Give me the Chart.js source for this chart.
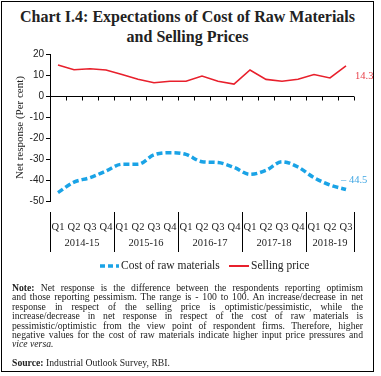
<!DOCTYPE html>
<html><head><meta charset="utf-8">
<script src="https://cdn.jsdelivr.net/npm/chart.js@4/dist/chart.umd.min.js"></script>
<style>
html,body{margin:0;padding:0;background:#fff;}
body{width:381px;height:376px;position:relative;overflow:hidden;font-family:"Liberation Serif",serif;color:#222;}
#frame{position:absolute;left:1px;top:1px;width:371px;height:369px;border:1px solid #000;}
#title{position:absolute;left:0;top:7px;width:375px;text-align:center;font-weight:bold;font-size:16px;line-height:20px;color:#222;}
#c{position:absolute;left:0;top:0;}
#note{position:absolute;left:12px;top:283px;width:351px;font-size:9.7px;line-height:9.4px;}
#note .j{text-align:justify;text-align-last:justify;}
#src{position:absolute;left:12px;top:357px;font-size:9.7px;}
</style></head>
<body>
<div id="frame"></div>
<div id="title">Chart I.4: Expectations of Cost of Raw Materials<br>and Selling Prices</div>
<canvas id="c" width="381" height="376"></canvas>
<div id="note">
<div class="j"><b>Note:</b> Net response is the difference between the respondents reporting optimism</div>
<div class="j">and those reporting pessimism. The range is - 100 to 100. An increase/decrease in net</div>
<div class="j">response in respect of the selling price is optimistic/pessimistic, while the</div>
<div class="j">increase/decrease in net response in respect of the cost of raw materials is</div>
<div class="j">pessimistic/optimistic from the view point of respondent firms. Therefore, higher</div>
<div class="j">negative values for the cost of raw materials indicate higher input price pressures and</div>
<div><i>vice versa.</i></div>
</div>
<div id="src"><b>Source:</b> Industrial Outlook Survey, RBI.</div>
<script>
const categories = ['Q1','Q2','Q3','Q4','Q1','Q2','Q3','Q4','Q1','Q2','Q3','Q4','Q1','Q2','Q3','Q4','Q1','Q2','Q3'];
const years = ['2014-15','2015-16','2016-17','2017-18','2018-19'];
const yearSizes = [4,4,4,4,3];
const costRawMaterials = [-46,-41,-38.9,-35.7,-32.5,-32.5,-28,-27,-27.8,-31.3,-31.7,-34,-37.3,-35.4,-31.3,-33.8,-38.9,-42.4,-44.5];
const sellingPrice = [14.8,12.5,13,12.4,10.2,8,6.3,7,7,9.5,7,5.7,12.4,7.9,7,8,10.2,8.6,14.3];
const yTicks = [20,10,0,-10,-20,-30,-40,-50];
const seriesNames = ['Cost of raw materials','Selling price'];
const lastLabels = ['\u2013 44.5','14.3'];

const BLUE = '#1aa3e6', RED = '#e8202c';
const serif = '"Liberation Serif", serif';

const deco = {
  id: 'deco',
  beforeDatasetsDraw(chart) {
    const ctx = chart.ctx, x = chart.scales.x, y = chart.scales.y;
    const y0 = Math.round(y.getPixelForValue(0)) + 0.5;
    ctx.save();
    ctx.strokeStyle = '#000'; ctx.lineWidth = 1;
    ctx.beginPath();
    ctx.moveTo(x.left, y0); ctx.lineTo(x.right, y0);
    for (let i = 0; i < categories.length; i++) {
      const px = Math.round(x.getPixelForValue(i) + (x.getPixelForValue(1) - x.getPixelForValue(0)) / 2) + 0.5;
      ctx.moveTo(px, y0); ctx.lineTo(px, y0 + 4);
    }
    ctx.stroke();
    ctx.restore();
  },
  afterDraw(chart) {
    const ctx = chart.ctx, x = chart.scales.x, y = chart.scales.y;
    const step = x.getPixelForValue(1) - x.getPixelForValue(0);
    ctx.save();
    ctx.strokeStyle = '#000'; ctx.lineWidth = 1;
    ctx.fillStyle = '#222';
    ctx.font = '10.5px ' + serif;
    ctx.textAlign = 'center'; ctx.textBaseline = 'middle';
    let start = 0;
    const sepTop = 212, sepBot = 252;
    let bx = Math.round(x.getPixelForValue(0) - step / 2) + 0.5;
    ctx.beginPath(); ctx.moveTo(bx, sepTop); ctx.lineTo(bx, sepBot); ctx.stroke();
    years.forEach((yr, k) => {
      const end = start + yearSizes[k] - 1;
      const ex = Math.round(x.getPixelForValue(end) + step / 2) + 0.5;
      ctx.beginPath(); ctx.moveTo(ex, sepTop); ctx.lineTo(ex, sepBot); ctx.stroke();
      const cx = (x.getPixelForValue(start) + x.getPixelForValue(end)) / 2;
      ctx.fillText(yr, cx, 243);
      start = end + 1;
    });
    const ds = chart.data.datasets;
    ctx.textAlign = 'left';
    ctx.font = '10.5px ' + serif;
    const n = categories.length - 1;
    const pb = chart.getDatasetMeta(0).data[n];
    ctx.fillStyle = '#3fa6e3';
    ctx.fillText(lastLabels[0], pb.x - 5, pb.y - 9);
    const pr = chart.getDatasetMeta(1).data[n];
    ctx.fillStyle = '#e8414a';
    ctx.fillText(lastLabels[1], pr.x + 9, pr.y + 10);
    const ly = 266;
    ctx.lineWidth = 3.5; ctx.strokeStyle = ds[0].borderColor; ctx.setLineDash([5, 3]);
    ctx.beginPath(); ctx.moveTo(100, ly); ctx.lineTo(119, ly); ctx.stroke();
    ctx.setLineDash([]);
    ctx.lineWidth = 2; ctx.strokeStyle = ds[1].borderColor;
    ctx.beginPath(); ctx.moveTo(229, ly); ctx.lineTo(249, ly); ctx.stroke();
    ctx.fillStyle = '#222'; ctx.font = '11.5px ' + serif;
    ctx.fillText(ds[0].label, 121, ly);
    ctx.fillText(ds[1].label, 251, ly);
    ctx.restore();
  }
};

new Chart(document.getElementById('c'), {
  type: 'line',
  data: {
    labels: categories,
    datasets: [
      { label: seriesNames[0], data: costRawMaterials, borderColor: BLUE, borderWidth: 3.5,
        borderDash: [6, 3], pointRadius: 0, cubicInterpolationMode: 'monotone', fill: false },
      { label: seriesNames[1], data: sellingPrice, borderColor: RED, borderWidth: 1.6,
        pointRadius: 0, tension: 0, fill: false }
    ]
  },
  options: {
    responsive: false, animation: false,
    layout: { padding: { left: 0, top: 54, right: 27, bottom: 0 } },
    plugins: { legend: { display: false }, title: { display: false }, tooltip: { enabled: false } },
    scales: {
      x: {
        offset: true,
        grid: { display: false },
        border: { display: false },
        ticks: { autoSkip: false, maxRotation: 0, padding: 12, color: '#222', font: { family: serif, size: 10.5 } },
        afterFit: s => { s.height = 175; }
      },
      y: {
        min: -50, max: 20,
        afterBuildTicks: s => { s.ticks = yTicks.map(v => ({ value: v })); },
        grid: { drawOnChartArea: false, tickLength: 4, color: '#000' },
        border: { color: '#000', width: 1 },
        ticks: { color: '#222', padding: 2, font: { family: '"Liberation Sans", Arial, sans-serif', size: 10 } },
        title: { display: true, text: 'Net response (Per cent)', color: '#222', font: { family: serif, size: 11 }, padding: { top: 14, bottom: 0 } },
        afterFit: s => { s.width = 50; }
      }
    }
  },
  plugins: [deco]
});
</script>
</body></html>
